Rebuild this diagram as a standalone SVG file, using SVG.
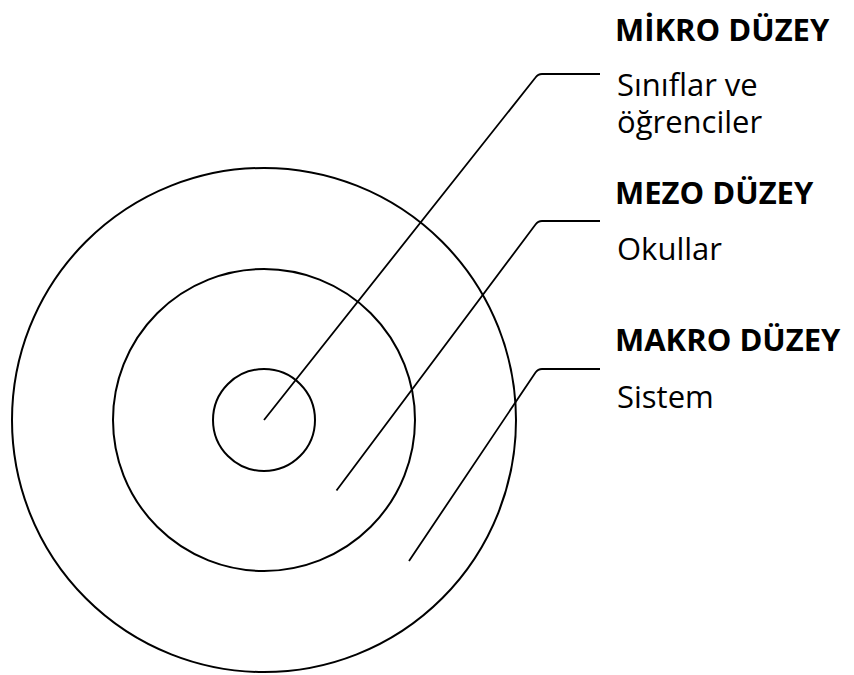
<svg xmlns="http://www.w3.org/2000/svg" width="854" height="675" viewBox="0 0 854 675">
<style>
.ring{fill:none;stroke:#000;stroke-width:2}
.conn{fill:none;stroke:#000;stroke-width:1.8;stroke-linejoin:round}
.title{font-family:"Open Sans","Noto Sans",sans-serif;font-weight:bold;font-size:31px;fill:#000}
.body{font-family:"Open Sans","Noto Sans",sans-serif;font-size:31px;fill:#000}
</style>
<rect width="854" height="675" fill="#fff"/>
<g id="makro-ring"><circle class="ring" cx="264" cy="420" r="252"/></g>
<g id="mezo-ring"><circle class="ring" cx="264" cy="420" r="151"/></g>
<g id="mikro-ring"><circle class="ring" cx="264" cy="420" r="51"/></g>
<g id="connectors">
<path class="conn" d="M264,420 L535.5,77.5 Q538,74 542,74 L600,74"/>
<path class="conn" d="M336.5,490.5 L535.5,224.5 Q538,221 542,221 L600,221"/>
<path class="conn" d="M409,561 L535.5,372.5 Q538,369 542,369 L600,369"/>
</g>
<g id="mikro-label">
<text class="title" x="615" y="41">MİKRO DÜZEY</text>
<text class="body" x="617" y="96">Sınıflar ve</text>
<text class="body" x="617" y="133">öğrenciler</text>
</g>
<g id="mezo-label">
<text class="title" x="615" y="204">MEZO DÜZEY</text>
<text class="body" x="617" y="260">Okullar</text>
</g>
<g id="makro-label">
<text class="title" x="615" y="351">MAKRO DÜZEY</text>
<text class="body" x="617" y="408">Sistem</text>
</g>
</svg>
